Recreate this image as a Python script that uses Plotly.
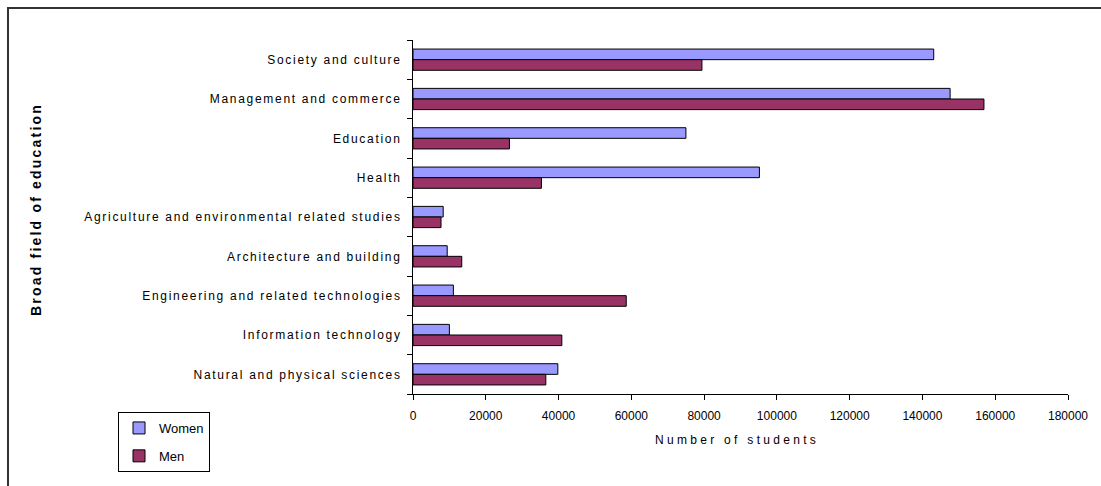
import plotly.graph_objects as go

categories = [
    "Society and culture",
    "Management and commerce",
    "Education",
    "Health",
    "Agriculture and environmental related studies",
    "Architecture and building",
    "Engineering and related technologies",
    "Information technology",
    "Natural and physical sciences",
]
women = [143100, 147600, 75000, 95200, 8300, 9400, 11100, 10000, 39800]
men = [79400, 156900, 26500, 35300, 7700, 13400, 58600, 40900, 36500]
x_ticks = [0, 20000, 40000, 60000, 80000, 100000, 120000, 140000, 160000, 180000]

W, H = 1101, 486
L, R, T, B = 413, 33, 40, 92
pw, ph = W - L - R, H - T - B

def px(x):
    return (x - L) / pw

def py(y):
    return (H - B - y) / ph

FONT = "Liberation Sans, Arial, sans-serif"

fig = go.Figure()
fig.add_trace(go.Bar(
    y=categories, x=women, name="Women", orientation="h",
    marker=dict(color="#9999FF", line=dict(color="#000000", width=1)),
    legendgroup="w",
))
fig.add_trace(go.Bar(
    y=categories, x=men, name="Men", orientation="h",
    marker=dict(color="#993366", line=dict(color="#000000", width=1)),
    legendgroup="m",
))

fig.update_layout(
    width=W, height=H,
    margin=dict(l=L, r=R, t=T, b=B, pad=0),
    paper_bgcolor="white", plot_bgcolor="white",
    barmode="group", bargap=0.46, bargroupgap=0,
    font=dict(family=FONT, size=12, color="#000000"),
    showlegend=True,
    legend=dict(
        x=px(118), y=py(412), xanchor="left", yanchor="top",
        bordercolor="#000000", borderwidth=1, bgcolor="white",
        font=dict(size=13), traceorder="grouped", tracegroupgap=8,
        itemwidth=30,
    ),
    xaxis=dict(
        range=[0, 180000], tickvals=x_ticks, ticktext=[str(v) for v in x_ticks],
        showgrid=False, zeroline=False, showline=True, linecolor="#000000", linewidth=1,
        ticks="outside", ticklen=5, tickcolor="#000000", ticklabelstandoff=6,
        tickfont=dict(size=12),
    ),
    yaxis=dict(
        autorange="reversed", showgrid=False, zeroline=False,
        showline=True, linecolor="#000000", linewidth=1,
        ticks="outside", ticklen=5, tickcolor="#000000", tickson="boundaries",
        tickvals=categories,
        ticktext=[f'<span style="letter-spacing:1.7px">{c}</span>' for c in categories],
        ticklabelstandoff=8,
        tickfont=dict(size=12),
    ),
    shapes=[dict(
        type="path", xref="paper", yref="paper",
        path=f"M {px(8)} {py(495)} L {px(8)} {py(8)} L {px(1110)} {py(8)}",
        line=dict(color="#333333", width=2),
    )],
    annotations=[
        dict(
            text='<b><span style="letter-spacing:2.2px">Broad field of education</span></b>',
            textangle=-90,
            xref="paper", yref="paper", x=px(36), y=py(210),
            xanchor="center", yanchor="middle", showarrow=False,
            font=dict(size=14, family=FONT),
        ),
        dict(
            text='<span style="letter-spacing:3.3px">Number of students</span>',
            xref="paper", yref="paper", x=px(737), y=py(440),
            xanchor="center", yanchor="middle", showarrow=False,
            font=dict(size=12, family=FONT),
        ),
    ],
)

fig.write_html("out.html")
